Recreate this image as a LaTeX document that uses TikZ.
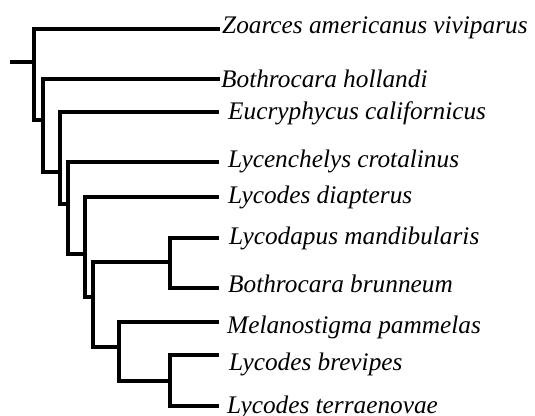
\documentclass[tikz,border=0pt]{standalone}
\usepackage{fontspec}
\setmainfont{Liberation Serif}
\usetikzlibrary{positioning}

\begin{document}
\begin{tikzpicture}[x=1pt,y=-1pt,
    branch/.style={line width=3.3pt,line join=miter},
    taxon/.style={anchor=base west,inner sep=0pt,font=\fontsize{25.3}{30}\selectfont\itshape}]
  \useasboundingbox (0,0) rectangle (535,415);
  % inner nodes
  \coordinate (stub) at (10,62);
  \coordinate (root) at (34,62);
  \coordinate (n2) at (43,120);
  \coordinate (n3) at (60,172);
  \coordinate (n4) at (68,204);
  \coordinate (n5) at (85,254);
  \coordinate (n6) at (93,297);
  \coordinate (n7) at (170,262);
  \coordinate (n8) at (119,347);
  \coordinate (n9) at (170,381);
  % tips
  \coordinate (t1) at (220,29);
  \coordinate (t2) at (220,79);
  \coordinate (t3) at (219,112);
  \coordinate (t4) at (219,162);
  \coordinate (t5) at (219,197);
  \coordinate (t6) at (219,238);
  \coordinate (t7) at (219,288);
  \coordinate (t8) at (219,322);
  \coordinate (t9) at (219,355);
  \coordinate (t10) at (219,406);
  % labels
  \node[taxon] (zoa) at (222,33) {Zoarces americanus viviparus};
  \node[taxon] (bho) at (221,87) {Bothrocara hollandi};
  \node[taxon] (euc) at (228,119) {Eucryphycus californicus};
  \node[taxon] (lyc) at (228,167) {Lycenchelys crotalinus};
  \node[taxon] (ldi) at (228,203) {Lycodes diapterus};
  \node[taxon] (lma) at (229,244) {Lycodapus mandibularis};
  \node[taxon] (bbr) at (228,292) {Bothrocara brunneum};
  \node[taxon] (mel) at (227,333) {Melanostigma pammelas};
  \node[taxon] (lbr) at (229,370) {Lycodes brevipes};
  \node[taxon] (lte) at (227,413) {Lycodes terraenovae};
  % branches
  \draw[branch] (stub) -- (root);
  \draw[branch] (root) |- (t1);
  \draw[branch] (root) |- (n2);
  \draw[branch] (n2) |- (t2);
  \draw[branch] (n2) |- (n3);
  \draw[branch] (n3) |- (t3);
  \draw[branch] (n3) |- (n4);
  \draw[branch] (n4) |- (t4);
  \draw[branch] (n4) |- (n5);
  \draw[branch] (n5) |- (t5);
  \draw[branch] (n5) |- (n6);
  \draw[branch] (n6) |- (n7);
  \draw[branch] (n6) |- (n8);
  \draw[branch] (n7) |- (t6);
  \draw[branch] (n7) |- (t7);
  \draw[branch] (n8) |- (t8);
  \draw[branch] (n8) |- (n9);
  \draw[branch] (n9) |- (t9);
  \draw[branch] (n9) |- (t10);
\end{tikzpicture}
\end{document}
